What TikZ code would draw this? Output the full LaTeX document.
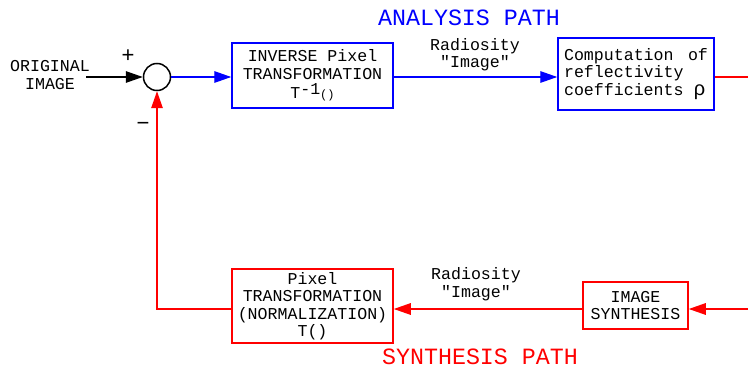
\documentclass[tikz,border=0pt]{standalone}
\usepackage{fontspec}
\setmainfont{Liberation Mono}[Ligatures=TeXOff]
\newfontfamily\signfont{Liberation Sans}
\usetikzlibrary{arrows.meta}
\begin{document}
\begin{tikzpicture}[x=1pt,y=-1pt,
  txt/.style={font=\fontsize{16.6}{17.5}\selectfont, inner sep=0pt, align=center},
  bluebox/.style={txt, draw=blue, line width=1.5pt},
  redbox/.style={txt, draw=red, line width=1.5pt},
  tip/.style={-{Triangle[length=17pt,width=11.5pt]}},
  bl/.style={blue, line width=1.4pt, tip},
  rl/.style={red, line width=1.4pt},
  title/.style={font=\fontsize{23.3}{24}\selectfont, inner sep=0pt},
  sign/.style={font=\signfont\fontsize{22}{22}\selectfont, inner sep=0pt}
]
\useasboundingbox (0,0) rectangle (748,369);
\node[title, text=blue] (ta) at (469,18) {ANALYSIS PATH};
\node[title, text=red] (ts) at (480,357) {SYNTHESIS PATH};
\node[txt] (orig) at (50,75) {ORIGINAL\\IMAGE};
\node[circle, draw, line width=1.5pt, minimum size=27pt, inner sep=0pt] (sum) at (157,77) {};
\node[sign] (plus) at (128,56) {+};
\node[sign] (minus) at (143,126) {−};
\node[bluebox, minimum width=161pt, minimum height=65pt] (inv) at (312.5,75.5)
  {INVERSE Pixel\\TRANSFORMATION\\[2pt]T\raisebox{4pt}{-1}{\fontsize{12}{12}\selectfont()}};
\node[bluebox, minimum width=156pt, minimum height=72pt, align=left] (comp) at (636,74)
  {Computation\hspace{14.4pt}of\\reflectivity\\coefficients {\fontsize{20}{20}\selectfont ρ}};
\node[redbox, minimum width=161pt, minimum height=74pt] (pix) at (312.5,306)
  {Pixel\\TRANSFORMATION\\(NORMALIZATION)\\T()};
\node[redbox, minimum width=105pt, minimum height=47pt] (syn) at (635.5,305.5)
  {IMAGE\\SYNTHESIS};
\node[txt] (lab1) at (475,54.5) {Radiosity\\"Image"};
\node[txt] (lab2) at (476,284) {Radiosity\\"Image"};
\coordinate (origout) at (86,77);
\coordinate (redout) at (748,77);
\coordinate (redin) at (748,309);
\draw[black, line width=1.4pt, tip] (origout) -- (sum.west);
\draw[bl] (sum.east) -- (inv.west|-sum);
\draw[bl] (inv.east|-sum) -- (comp.west|-sum);
\draw[rl] (comp.east|-sum) -- (redout);
\draw[rl, tip] (redin) -- (syn.east|-redin);
\draw[rl, tip] (syn.west|-redin) -- (pix.east|-redin);
\draw[rl, tip] (pix.west|-redin) -| (sum.south);
\end{tikzpicture}
\end{document}
